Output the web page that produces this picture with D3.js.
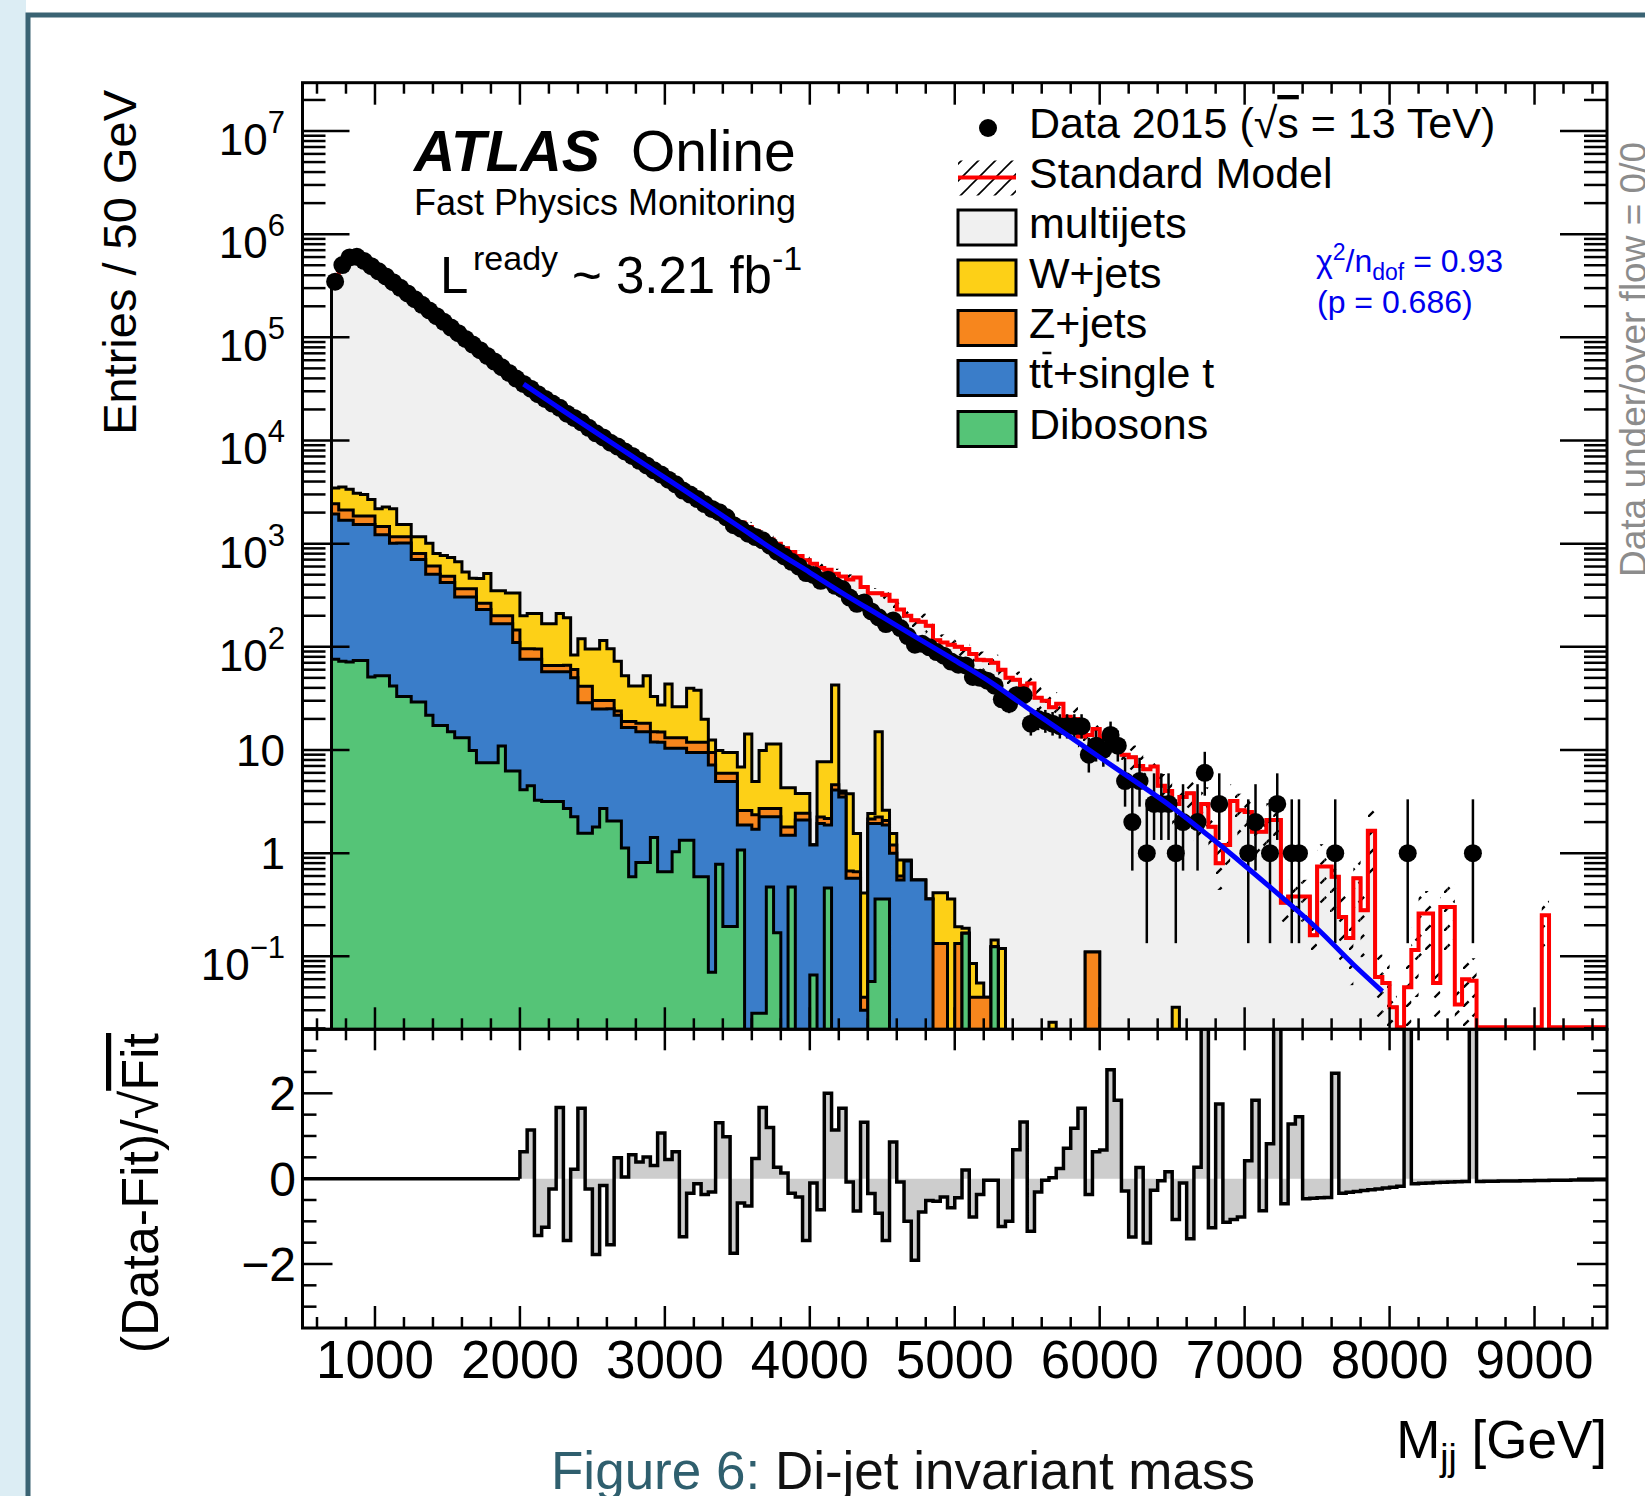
<!DOCTYPE html>
<html>
<head>
<meta charset="utf-8">
<title>Di-jet invariant mass</title>
<script src="https://cdn.jsdelivr.net/npm/d3@7/dist/d3.min.js"></script>
<style>
  html, body { margin: 0; padding: 0; background: #ffffff; }
  svg { display: block; }
  text { font-family: "Liberation Sans", Arial, Helvetica, sans-serif; }
</style>
</head>
<body>
<svg id="chart" width="1645" height="1496"></svg>
<script>
// ---------------- binning ----------------
const binLow = 700;      // lower edge of first bin [GeV]
const binWidth = 50;     // GeV per bin

// ---------------- observed data (entries per bin) ----------------
const dataCounts = [
  346700, 501200, 595700, 602600, 549500, 489800, 436500, 389000, 342800, 302000,
  266100, 234400, 206500, 182000, 160300, 141300, 124500, 109600, 96600, 85100,
  75000, 66070, 58210, 51290, 45190, 39810, 35318, 31790, 28130, 25260,
  22790, 20730, 18190, 16530, 15010, 13260, 11750, 10720, 9509, 8736,
  7820, 7078, 6355, 5727, 5139, 4676, 4169, 3762, 3271, 2994,
  2704, 2417, 2171, 2019, 1801, 1510, 1397, 1249, 1158, 1077,
  955, 836, 752, 667, 600, 518, 497, 436, 447, 390,
  363, 300, 261, 269, 220, 193, 166, 180, 152, 127,
  105, 107, 99, 89, 82, 72, 67, 66, 51, 50,
  47, 42, 31, 28, 34, 34, 18, 20, 19, 18,
  17, 17, 17, 17, 9, 11, 10, 14, 11, 5,
  2, 5, 1, 3, 3, 3, 1, 2, 0, 2,
  6, 0, 3, 0, 0, 0, 1, 2, 0, 1,
  3, 0, 1, 1, 0, 0, 0, 0, 1, 0,
  0, 0, 0, 0, 0, 0, 0, 0, 1, 0,
  0, 0, 0, 0, 0, 0, 0, 1, 0, 0,
  0, 0, 0, 0, 0, 0, 0, 0, 0, 0,
  0, 0, 0, 0, 0, 0
];

// ---------------- Standard Model total (stack sum) ----------------
const smTotal = [
  350000, 505000, 598000, 604000, 552000, 492000, 438000, 390000, 344000, 303000,
  267000, 235000, 207000, 182500, 160800, 141700, 124800, 110000, 96900, 85400,
  75200, 66300, 58400, 51500, 45400, 40000, 35300, 31700, 28400, 25500,
  22900, 20600, 18500, 16600, 14900, 13400, 12000, 10800, 9700, 8750,
  7880, 7100, 6390, 5760, 5190, 4680, 4210, 3790, 3420, 3080,
  2780, 2500, 2260, 2040, 1840, 1660, 1600, 1450, 1320, 1200,
  1100, 1000, 900, 830, 760, 690, 640, 580, 560, 510,
  480, 450, 470, 380, 330, 330, 320, 280, 230, 200,
  181, 175, 160, 116, 110, 105, 100, 95, 85, 75,
  74, 70, 60, 50, 48, 42, 44, 32, 30, 26,
  28, 21, 20, 13.5, 14, 16, 13, 12, 11.5, 9,
  8.5, 7, 6.5, 6.9, 4.5, 4.0, 3.0, 3.5, 3.8, 2.2,
  3.0, 1.8, 0.8, 1.2, 3.2, 2.6, 2.5, 1.61, 1.61, 2.1,
  2.1, 0.33, 0.38, 0.38, 0.38, 0.16, 0.74, 0.74, 0.59, 0.24,
  0.15, 0.57, 0.28, 1.65, 0.063, 0.055, 0.032, 0, 0.05, 0.115,
  0.26, 0.26, 0.055, 0.30, 0.30, 0.034, 0.06, 0.058, 0, 0,
  0, 0, 0, 0, 0, 0, 0, 0.25, 0, 0,
  0, 0, 0, 0, 0, 0
];
const multijetsBins = 147;   // bins where the multijets template is populated

// ---------------- background components (from 700 GeV) ----------------
const wjets = [
  1029, 1409, 1250, 1226, 1143, 826, 717, 799, 1019, 372,
  372, 361, 361, 404, 195, 284, 250, 302, 164, 95,
  196, 250, 149, 149, 133, 188, 104.5, 114.5, 114.5, 101,
  101, 144, 125, 22.9, 78.4, 53.9, 65.4, 84.9, 65.4, 48.5,
  33.5, 22.7, 23.5, 34.3, 18.0, 12.4, 30.4, 13.1, 13.1, 27.8,
  26.0, 7.9, 3.04, 3.94, 3.5, 3.5, 4.25, 11.7, 2.59, 7.19,
  8.69, 8.69, 2.52, 2.52, 1.36, 1.36, 0.01, 5.46, 5.5, 38,
  0.2, 3.1, 0.89, 0.37, 0.29, 12.8, 0.54, 0.35, 0.26, 0.02,
  0, 0, 0, 0.28, 0.28, 0.36, 0.06, 0.02, 0.045, 0.015,
  0, 0.02, 0.119, 0, 0, 0, 0, 0, 0, 0.023,
  0, 0, 0, 0, 0, 0, 0, 0, 0, 0,
  0, 0, 0, 0, 0, 0, 0.032
];
const zjets = [
  502, 437, 437, 313, 313, 313, 247, 247, 152, 152,
  152, 103, 103, 102, 102, 62, 62, 62, 62, 62,
  35, 35, 33, 33, 33, 35, 19.6, 19.6, 19.6, 8.7,
  8.7, 8.7, 8.7, 10.3, 12.9, 12.9, 5.1, 5.1, 5.1, 2.2,
  2.4, 2.4, 3.1, 3.1, 3.1, 3.1, 2.7, 2.7, 2.7, 2.44,
  2.44, 2.44, 2.3, 1.01, 1.01, 1.01, 0.72, 0.72, 0.65, 0.46,
  0.46, 0.46, 0.3, 0.3, 0.34, 0.34, 0, 0.3, 0.3, 0.5,
  0.3, 0.1, 0.09, 0.01, 0.2, 0.3, 0.2, 0.2, 0.05, 0,
  0, 0, 0, 0.133, 0.133, 0, 0.133, 0, 0.04, 0.04,
  0.04, 0, 0, 0, 0, 0, 0, 0, 0, 0,
  0, 0, 0, 0, 0.11, 0.11, 0, 0, 0, 0,
  0, 0, 0, 0, 0, 0, 0
];
const ttbar = [
  1860, 1614, 1615, 1462, 1462, 1485, 1167, 1167, 970, 979,
  979, 671, 671, 484, 489, 404, 406, 291, 291, 294,
  222, 222, 160, 156, 161, 104, 71.8, 71.4, 72.6, 54.2,
  54.2, 54.2, 54.7, 47.8, 27.1, 27.1, 23.2, 22.3, 23.0, 19.65,
  15.4, 15.9, 14.2, 14.2, 10.5, 11.2, 9.74, 9.37, 9.07, 8.13,
  8.87, 8.87, 7.09, 4.17, 4.76, 4.76, 0.80, 1.87, 1.68, 2.22,
  1.78, 2.08, 1.49, 1.02, 2.09, 2.09, 1.13, 1.94, 1.41, 4.1,
  3.5, 0.57, 0.57, 0.03, 1.88, 1.58, 1.51, 1.0, 0.55, 0.84,
  0.55, 0.55, 0.36
];
const dibosons = [
  75.9, 72.4, 71.1, 73.8, 73.8, 50.9, 52.4, 52.4, 41.6, 33.0,
  33.0, 29.2, 29.2, 21.7, 17.3, 17.3, 15.0, 13.1, 13.1, 9.9,
  7.5, 7.5, 7.5, 10.9, 6.24, 6.24, 4.11, 4.51, 3.26, 3.17,
  3.17, 3.17, 2.71, 2.25, 1.56, 1.56, 1.79, 2.71, 2.05, 2.05,
  1.12, 0.59, 0.81, 0.81, 1.42, 0.66, 0.66, 1.03, 1.33, 1.33,
  0.59, 0.59, 0.07, 0.78, 0.194, 0.194, 1.07, 0, 0.028, 0.028,
  0.47, 0.169, 0, 0.47, 0, 0, 0.066, 0, 0.46, 0,
  0, 0, 0, 0, 0.057, 0.36, 0.36, 0, 0, 0,
  0, 0, 0, 0, 0, 0, 0, 0.167, 0, 0,
  0, 0.124
];

// relative uncertainty band on the SM prediction: [from GeV, to GeV, fraction]
const smUncertainty = [
  [700, 3500, 0.02], [3500, 4500, 0.12], [4500, 5500, 0.2],
  [5500, 6500, 0.3], [6500, 7500, 0.45], [7500, 9500, 0.65]
];

// ---------------- fit ----------------
const fitMass  = [2025, 2250, 2500, 2750, 3000, 3250, 3500, 3750, 4000, 4250, 4500, 4750,
                  5000, 5250, 5500, 5750, 6000, 6250, 6500, 6750, 7000, 7250, 7500, 7750, 7950];
const fitValue = [35200, 21600, 12600, 7410, 4370, 2570, 1500, 871, 525, 316, 195, 120,
                  74.1, 45.2, 25.7, 14.8, 8.51, 4.90, 2.79, 1.48, 0.759, 0.380, 0.186, 0.0832, 0.0457];

// ---------------- (Data-Fit)/sqrt(Fit), bins from 2000 GeV ----------------
const residualStart = 2000;
const residual = [
  0.63, 1.14, -1.33, -1.14, -0.24, 1.67, -1.45, 0.22, 1.65, -0.24,
  -1.78, -0.16, -1.55, 0.49, 0.04, 0.56, 0.39, 0.51, 0.31, 1.07,
  0.45, 0.63, -1.36, -0.34, -0.12, -0.37, -0.31, 1.31, 0.98, -1.75,
  -0.57, -0.64, 0.47, 1.67, 1.2, 0.27, 0.13, -0.34, -0.43, -1.45,
  -0.1, -0.73, 2.0, 1.14, 1.65, -0.08, -0.76, 1.32, -0.35, -0.81,
  -1.45, 0.86, -0.08, -1.0, -1.91, -0.78, -0.51, -0.53, -0.43, -0.68,
  -0.45, 0.2, -0.9, -0.37, -0.04, -0.04, -1.12, -1.0, 0.68, 1.33,
  -1.23, -0.31, -0.04, 0.02, 0.24, 0.71, 1.18, 1.65, -0.37, 0.63,
  0.67, 2.55, 1.84, -0.29, -1.37, 0.26, -1.51, -0.27, -0.05, 0.16,
  -0.96, -0.1, -1.41, 0.27, 5.0, -1.15, 1.75, -1.02, -0.96, -0.9,
  0.42, 1.84, -0.75, 0.82, 5.0, -0.59, 1.28, 1.45, -0.47, -0.46,
  -0.45, -0.44, 2.47, -0.34, -0.32, -0.30, -0.28, -0.26, -0.24, -0.22,
  -0.20, -0.18, 5.0, -0.12, -0.11, -0.10, -0.09, -0.085, -0.08, -0.07,
  -0.065, 5.0, -0.065, -0.063, -0.06, -0.058, -0.055, -0.053, -0.05, -0.048,
  -0.045, -0.043, -0.04, -0.038, -0.036, -0.034, -0.032, -0.03, -0.028, -0.026
];

// ---------------- axis ticks ----------------
const massTicks = [1000, 2000, 3000, 4000, 5000, 6000, 7000, 8000, 9000];
const decadeTicks = [-1, 0, 1, 2, 3, 4, 5, 6, 7];
const residualTicks = [-2, 0, 2];

// ---------------- legend ----------------
const legendRows = [
  { key: 'data',  label: 'Data 2015' },
  { key: 'sm',    label: 'Standard Model' },
  { key: 'box',   label: 'multijets',      color: '#f0f0f0' },
  { key: 'box',   label: 'W+jets',         color: '#fdd017' },
  { key: 'box',   label: 'Z+jets',         color: '#f7861d' },
  { key: 'box',   label: 'tt+single t',    color: '#3a7dc9' },
  { key: 'box',   label: 'Dibosons',       color: '#55c477' }
];
const colors = { w: '#fdd017', z: '#f7861d', tt: '#3a7dc9', dib: '#55c477', mj: '#f0f0f0' };

// ================= drawing =================
const svg = d3.select('#chart');
const frameL = 302.5, frameR = 1607, upT = 82.7, upB = 1029.3, loB = 1328;

const x = d3.scaleLinear().domain([500, 9500]).range([frameL, frameR]);
const yUp = d3.scaleLog().domain([0.0196, 2.94e7]).range([upB, upT]);
const yLo = d3.scaleLinear().domain([-3.5, 3.5]).range([loB, upB]);

const edge = i => binLow + i * binWidth;
const yv = v => (v > 0 ? yUp(v) : upB + 40);

// page background: side strip and border
svg.append('rect').attr('x', 0).attr('y', 0).attr('width', 26).attr('height', 1496).attr('fill', '#dcedf4');
svg.append('path').attr('d', 'M28,1496 V15 H1645').attr('fill', 'none').attr('stroke', '#3a6373').attr('stroke-width', 5);

const defs = svg.append('defs');
defs.append('clipPath').attr('id', 'clipUp').append('rect')
  .attr('x', frameL).attr('y', upT).attr('width', frameR - frameL).attr('height', upB - upT);
defs.append('clipPath').attr('id', 'clipLo').append('rect')
  .attr('x', frameL).attr('y', upB).attr('width', frameR - frameL).attr('height', loB - upB);
const hatch = defs.append('pattern').attr('id', 'hatch').attr('patternUnits', 'userSpaceOnUse')
  .attr('width', 19).attr('height', 19);
hatch.append('path').attr('d', 'M0,19 L19,0')
  .attr('stroke', '#000').attr('stroke-width', 2.3).attr('stroke-dasharray', '8 5.4');
const hatchLegend = defs.append('pattern').attr('id', 'hatchLegend').attr('patternUnits', 'userSpaceOnUse')
  .attr('width', 17).attr('height', 17);
hatchLegend.append('path').attr('d', 'M-2,2 L2,-2 M0,17 L17,0 M15,19 L19,15')
  .attr('stroke', '#000').attr('stroke-width', 1.6);

// step helpers
function stepPoints(vals, yf, start, i0, i1) {
  const pts = [];
  for (let i = i0; i < i1; i++) {
    const yy = yf(vals[i] ?? 0);
    const x0 = x(start + i * binWidth), x1 = x(start + (i + 1) * binWidth);
    pts.push([x0, yy], [x1, yy]);
  }
  return pts;
}
const ptsStr = pts => pts.map(p => p[0].toFixed(2) + ',' + p[1].toFixed(2)).join('L');
function areaD(pts, base) {
  return 'M' + pts[0][0] + ',' + base + 'L' + ptsStr(pts) + 'L' + pts[pts.length - 1][0] + ',' + base + 'Z';
}
function outlineD(pts, base) {
  return 'M' + pts[0][0] + ',' + base + 'L' + ptsStr(pts) + 'L' + pts[pts.length - 1][0] + ',' + base;
}

// ---------- upper panel ----------
const up = svg.append('g').attr('clip-path', 'url(#clipUp)');

// multijets sits on top of the stack: its top edge is the SM total
const mjPts = stepPoints(smTotal, yv, binLow, 0, multijetsBins);
up.append('path').attr('d', areaD(mjPts, upB + 40)).attr('fill', colors.mj);
up.append('path').attr('d', outlineD(mjPts, upB + 40)).attr('fill', 'none')
  .attr('stroke', '#000').attr('stroke-width', 3);

// electroweak + top backgrounds stacked with d3.stack
const nComp = wjets.length;
const compRows = d3.range(nComp).map(i => ({
  dib: dibosons[i] ?? 0, tt: ttbar[i] ?? 0, z: zjets[i] ?? 0, w: wjets[i] ?? 0
}));
const stacked = d3.stack().keys(['dib', 'tt', 'z', 'w'])(compRows);
[...stacked].reverse().forEach(layer => {
  const tops = layer.map(d => d[1]);
  const pts = stepPoints(tops, yv, binLow, 0, nComp);
  up.append('path').attr('d', areaD(pts, upB + 40)).attr('fill', colors[layer.key]);
  up.append('path').attr('d', outlineD(pts, upB + 40)).attr('fill', 'none')
    .attr('stroke', '#000').attr('stroke-width', 3).attr('stroke-linejoin', 'miter');
});

// SM uncertainty band (hatched)
const relErr = m => { const r = smUncertainty.find(s => m >= s[0] && m < s[1]); return r ? r[2] : 0; };
smTotal.forEach((v, i) => {
  if (!(v > 0)) return;
  const e = relErr(edge(i));
  if (e < 0.05) return;
  const hi = v * (1 + e), lo = Math.max(v * (1 - e), 0.001);
  up.append('rect').attr('x', x(edge(i))).attr('width', x(edge(i + 1)) - x(edge(i)))
    .attr('y', yUp(hi)).attr('height', yv(lo) - yUp(hi)).attr('fill', 'url(#hatch)');
});

// SM total line (starts at the top of the first bin)
const smPts = stepPoints(smTotal, v => (v > 0 ? yUp(v) : upB - 2), binLow, 0, smTotal.length);
up.append('path').attr('d', 'M' + ptsStr(smPts)).attr('fill', 'none')
  .attr('stroke', '#ff0000').attr('stroke-width', 4);

// data with Poisson error bars
const dataG = up.append('g');
dataCounts.forEach((n, i) => {
  if (!(n > 0)) return;
  const cx = x(edge(i) + binWidth / 2);
  const lo = n - Math.sqrt(n - 0.25), hi = n + 1 + Math.sqrt(n + 0.75);
  dataG.append('line').attr('x1', cx).attr('x2', cx).attr('y1', yv(lo)).attr('y2', yUp(hi))
    .attr('stroke', '#000').attr('stroke-width', 2.5);
  dataG.append('circle').attr('cx', cx).attr('cy', yUp(n)).attr('r', 9).attr('fill', '#000');
});

// fit function
const fitLine = d3.line().x(d => x(d[0])).y(d => yUp(d[1])).curve(d3.curveMonotoneX);
up.append('path').attr('d', fitLine(fitMass.map((m, i) => [m, fitValue[i]])))
  .attr('fill', 'none').attr('stroke', '#0000ff').attr('stroke-width', 5);

// ---------- lower panel ----------
const lo = svg.append('g').attr('clip-path', 'url(#clipLo)');
const clampR = v => yLo(Math.max(-3.8, Math.min(3.8, v)));
const resPts = stepPoints(residual, clampR, residualStart, 0, residual.length);
lo.append('path').attr('d', areaD(resPts, yLo(0))).attr('fill', '#cdcdcd');
lo.append('line').attr('x1', x(500)).attr('x2', x(residualStart)).attr('y1', yLo(0)).attr('y2', yLo(0))
  .attr('stroke', '#000').attr('stroke-width', 3.5);
lo.append('path').attr('d', outlineD(resPts, yLo(0))).attr('fill', 'none')
  .attr('stroke', '#000').attr('stroke-width', 3.5);

// ---------- frames & ticks ----------
const axes = svg.append('g').attr('stroke', '#000').attr('fill', 'none');
axes.append('rect').attr('x', frameL).attr('y', upT).attr('width', frameR - frameL).attr('height', upB - upT).attr('stroke-width', 3);
axes.append('rect').attr('x', frameL).attr('y', upB).attr('width', frameR - frameL).attr('height', loB - upB).attr('stroke-width', 3);
const tick = (x1, y1, x2, y2) => axes.append('line').attr('x1', x1).attr('y1', y1).attr('x2', x2).attr('y2', y2).attr('stroke-width', 2.5);

// log-axis ticks
for (let e = -2; e <= 7; e++) {
  for (let m = 1; m <= 9; m++) {
    const v = m * Math.pow(10, e);
    if (v <= 0.0196 || v >= 2.94e7) continue;
    const yy = yUp(v), len = m === 1 ? 47 : 23;
    tick(frameL, yy, frameL + len, yy);
    tick(frameR, yy, frameR - len, yy);
  }
}
// mass ticks
for (let m = 600; m <= 9400; m += 200) {
  const xx = x(m), major = m % 1000 === 0;
  const len = major ? 22 : 11;
  tick(xx, upT, xx, upT + len);
  tick(xx, upB, xx, upB - len);
  tick(xx, upB, xx, upB + (major ? 21 : 11));
  tick(xx, loB, xx, loB - len);
}
// residual ticks
for (let v = -3; v <= 3.001; v += 0.5) {
  const yy = yLo(v), major = Math.abs(v) % 2 === 0;
  const len = major ? 30 : 14;
  tick(frameL, yy, frameL + len, yy);
  tick(frameR, yy, frameR - len, yy);
}

// ---------- tick labels ----------
const labels = svg.append('g').attr('fill', '#000');
decadeTicks.forEach(e => {
  const ty = yUp(Math.pow(10, e));
  if (e === 0 || e === 1) {
    labels.append('text').attr('x', 285).attr('y', ty + 16).attr('text-anchor', 'end')
      .attr('font-size', 44).text(e === 0 ? '1' : '10');
  } else {
    const t = labels.append('text').attr('x', 285).attr('y', ty + 24).attr('text-anchor', 'end').attr('font-size', 44);
    t.append('tspan').text('10');
    t.append('tspan').attr('font-size', 31).attr('dy', -22).text(e < 0 ? '\u2212' + (-e) : String(e));
  }
});
massTicks.forEach(m => {
  labels.append('text').attr('x', x(m)).attr('y', 1378).attr('text-anchor', 'middle')
    .attr('font-size', 53).text(String(m));
});
residualTicks.forEach(v => {
  labels.append('text').attr('x', 296).attr('y', yLo(v) + 17).attr('text-anchor', 'end')
    .attr('font-size', 48).text(v < 0 ? '\u2212' + (-v) : String(v));
});

// ---------- axis titles ----------
labels.append('text').attr('transform', 'translate(136,90) rotate(-90)').attr('text-anchor', 'end')
  .attr('font-size', 47).text('Entries / 50 GeV');
const rt = labels.append('text').attr('transform', 'translate(158,1033) rotate(-90)').attr('text-anchor', 'end')
  .attr('font-size', 52);
rt.append('tspan').text('(Data-Fit)/\u221A');
rt.append('tspan').style('text-decoration', 'overline').text('Fit');
const xt = labels.append('text').attr('x', frameR).attr('y', 1458).attr('text-anchor', 'end').attr('font-size', 53);
xt.append('tspan').text('M');
xt.append('tspan').attr('font-size', 37).attr('dy', 12).text('jj');
xt.append('tspan').attr('dy', -12).text(' [GeV]');

// ---------- ATLAS label ----------
labels.append('text').attr('x', 414).attr('y', 171).attr('font-size', 57)
  .attr('font-weight', 'bold').attr('font-style', 'italic').text('ATLAS');
labels.append('text').attr('x', 631).attr('y', 171).attr('font-size', 57).text('Online');
labels.append('text').attr('x', 414).attr('y', 215).attr('font-size', 36).text('Fast Physics Monitoring');
labels.append('text').attr('x', 440).attr('y', 293).attr('font-size', 51).text('L');
labels.append('text').attr('x', 473).attr('y', 270).attr('font-size', 34).text('ready');
const lumi = labels.append('text').attr('x', 572).attr('y', 293).attr('font-size', 51);
lumi.append('tspan').text('~ 3.21 fb');
lumi.append('tspan').attr('font-size', 34).attr('dy', -23).text('-1');

// fit quality
const chi = labels.append('text').attr('x', 1316).attr('y', 272).attr('font-size', 32).attr('fill', '#0000ee');
chi.append('tspan').text('\u03C7');
chi.append('tspan').attr('font-size', 23).attr('dy', -12).text('2');
chi.append('tspan').attr('dy', 12).text('/n');
chi.append('tspan').attr('font-size', 23).attr('dy', 8).text('dof');
chi.append('tspan').attr('dy', -8).text(' = 0.93');
labels.append('text').attr('x', 1317).attr('y', 313).attr('font-size', 32).attr('fill', '#0000ee').text('(p = 0.686)');

// side note
labels.append('text').attr('transform', 'translate(1646,577) rotate(-90)').attr('font-size', 37)
  .attr('fill', '#8c8c8c').text('Data under/over flow = 0/0');

// ---------- legend ----------
const legend = svg.append('g');
const rowY = [128, 177.5, 227.5, 277.5, 328, 378, 429];
legendRows.forEach((r, k) => {
  const cy = rowY[k];
  if (r.key === 'data') {
    legend.append('circle').attr('cx', 988).attr('cy', cy).attr('r', 9).attr('fill', '#000');
    const t = legend.append('text').attr('x', 1029).attr('y', cy + 10).attr('font-size', 43);
    t.append('tspan').text(r.label + ' (\u221A');
    t.append('tspan').style('text-decoration', 'overline').text('s');
    t.append('tspan').text(' = 13 TeV)');
    return;
  }
  if (r.key === 'sm') {
    legend.append('rect').attr('x', 958).attr('y', cy - 17).attr('width', 58).attr('height', 35).attr('fill', 'url(#hatchLegend)');
    legend.append('line').attr('x1', 958).attr('x2', 1016).attr('y1', cy).attr('y2', cy)
      .attr('stroke', '#ff0000').attr('stroke-width', 4);
  } else {
    legend.append('rect').attr('x', 958).attr('y', cy - 17.5).attr('width', 58).attr('height', 35)
      .attr('fill', r.color).attr('stroke', '#000').attr('stroke-width', 3);
  }
  const t = legend.append('text').attr('x', 1029).attr('y', cy + 10).attr('font-size', 43).text(r.label);
  if (r.label.startsWith('tt')) {
    const ext = t.node().getExtentOfChar(1);
    legend.append('line').attr('x1', ext.x + 1.5).attr('x2', ext.x + ext.width - 1.5)
      .attr('y1', cy - 25).attr('y2', cy - 25).attr('stroke', '#000').attr('stroke-width', 2.5);
  }
});

// ---------- caption ----------
const cap = svg.append('text').attr('x', 551).attr('y', 1489).attr('font-size', 53);
cap.append('tspan').attr('fill', '#2f5f6e').text('Figure 6:');
cap.append('tspan').attr('fill', '#111').text(' Di-jet invariant mass');
</script>
</body>
</html>
